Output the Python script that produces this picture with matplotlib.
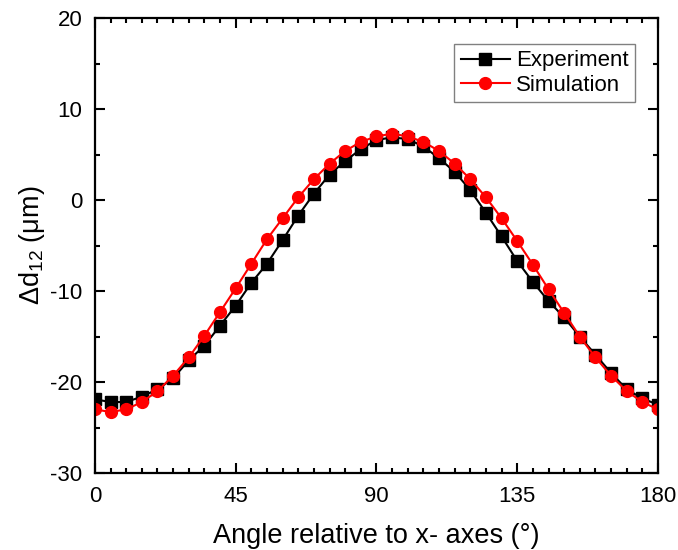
import matplotlib; matplotlib.use("Agg")
import matplotlib.pyplot as plt
from matplotlib.ticker import MultipleLocator

plt.rcParams["font.family"] = ["Liberation Sans", "DejaVu Sans"]
plt.rcParams["axes.unicode_minus"] = False
plt.rcParams["mathtext.default"] = "regular"

angle = list(range(0, 181, 5))
experiment = [-21.9, -22.2, -22.2, -21.6, -20.8, -19.6, -17.6, -16.0, -13.8, -11.6,
              -9.1, -7.0, -4.4, -1.7, 0.7, 2.8, 4.3, 5.6, 6.6, 6.9,
              6.7, 5.9, 4.6, 3.1, 1.1, -1.4, -4.0, -6.7, -9.0, -11.1,
              -12.9, -15.0, -17.0, -19.0, -20.8, -21.8, -22.5]
simulation = [-23.0, -23.3, -23.0, -22.2, -21.0, -19.3, -17.3, -14.9, -12.3, -9.7,
              -7.0, -4.3, -2.0, 0.3, 2.3, 4.0, 5.4, 6.4, 7.0, 7.3,
              7.0, 6.4, 5.4, 4.0, 2.3, 0.3, -2.0, -4.5, -7.1, -9.8,
              -12.4, -15.0, -17.3, -19.3, -21.0, -22.2, -23.0]

fig = plt.figure(figsize=(6.78, 5.5), dpi=100)
ax = fig.add_axes([0.140, 0.14, 0.8305, 0.827])

ax.plot(angle, experiment, "-s", color="black", lw=1.5, ms=8, label="Experiment")
ax.plot(angle, simulation, "-o", color="red", mfc="red", mec="red", lw=1.5, ms=8.5, label="Simulation")

ax.set_xlim(0, 180); ax.set_ylim(-30, 20)
ax.xaxis.set_major_locator(MultipleLocator(45)); ax.xaxis.set_minor_locator(MultipleLocator(5))
ax.yaxis.set_major_locator(MultipleLocator(10)); ax.yaxis.set_minor_locator(MultipleLocator(5))
ax.tick_params(which="both", direction="in", top=True, right=True, width=1.5, labelsize=16)
ax.tick_params(which="major", length=7, pad=9)
ax.tick_params(which="minor", length=3.5)
for s in ax.spines.values():
    s.set_linewidth(1.6)

ax.set_xlabel("Angle relative to x- axes (°)", fontsize=19.5, labelpad=12)
ax.set_ylabel("Δd$_{12}$ (μm)", fontsize=19.5, labelpad=2)

leg = ax.legend(loc="upper right", fontsize=16, fancybox=False, framealpha=1,
                edgecolor="grey", borderpad=0.3, handlelength=2.2, handletextpad=0.3,
                labelspacing=0.15, borderaxespad=0, bbox_to_anchor=(0.96, 0.944))
leg.get_frame().set_linewidth(1)

plt.savefig("out.png", dpi=100)
